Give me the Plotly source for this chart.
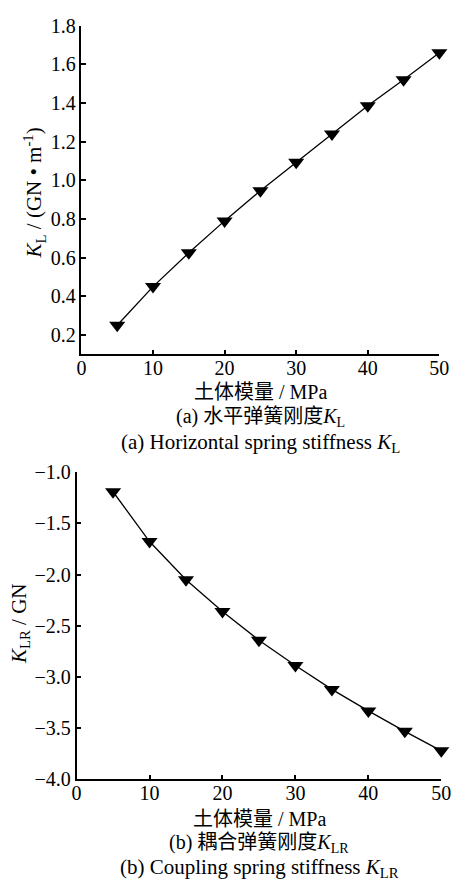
import plotly.graph_objects as go

modulus = [5, 10, 15, 20, 25, 30, 35, 40, 45, 50]
k_l = [0.25, 0.45, 0.625, 0.79, 0.946, 1.093, 1.24, 1.386, 1.52, 1.66]
k_lr = [-1.19, -1.676, -2.05, -2.36, -2.64, -2.886, -3.12, -3.33, -3.53, -3.72]

x_ticks = [0, 10, 20, 30, 40, 50]
y1_ticks = [0.2, 0.4, 0.6, 0.8, 1.0, 1.2, 1.4, 1.6, 1.8]
y2_ticks = [-1.0, -1.5, -2.0, -2.5, -3.0, -3.5, -4.0]

FONT = "Liberation Serif, Noto Sans CJK SC"
TICKFONT = "Times New Roman, Liberation Serif, serif"
W, H = 460, 889

fig = go.Figure()
common = dict(mode="lines+markers", line=dict(color="black", width=1.3),
              marker=dict(symbol="triangle-down", size=14, color="black"),
              cliponaxis=False, showlegend=False)
fig.add_trace(go.Scatter(x=modulus, y=k_l, xaxis="x", yaxis="y", **common))
fig.add_trace(go.Scatter(x=modulus, y=k_lr, xaxis="x2", yaxis="y2", **common))

ax = dict(showline=True, linecolor="black", linewidth=1.5, ticks="inside",
          ticklen=5, tickwidth=1.5, tickcolor="black", showgrid=False,
          zeroline=False, mirror=False,
          tickfont=dict(family=TICKFONT, size=20, color="black"))

fig.update_layout(
    width=W, height=H, margin=dict(l=0, r=0, t=0, b=0),
    paper_bgcolor="white", plot_bgcolor="white",
    font=dict(family=TICKFONT, color="black", size=20),
    xaxis=dict(domain=[79 / W, 449 / W], range=[0, 50], tickvals=x_ticks,
               anchor="y", ticklabelstandoff=-5, **ax),
    yaxis=dict(domain=[1 - 352 / H, 1 - 15 / H], range=[0.1, 1.8],
               tickvals=y1_ticks, ticktext=[f"{v:.1f}" for v in y1_ticks],
               anchor="x", **ax),
    xaxis2=dict(domain=[74 / W, 451 / W], range=[0, 50], tickvals=x_ticks,
                anchor="y2", ticklabelstandoff=-5, **ax),
    yaxis2=dict(domain=[1 - 788 / H, 1 - 473 / H], range=[-4.0, -1.0],
                tickvals=y2_ticks, ticktext=[f"{v:.1f}".replace("-", "\u2212") for v in y2_ticks],
                anchor="x2", **ax),
)

def ann(text, x, y, size=20, angle=0):
    fig.add_annotation(text=text, x=x / W, y=1 - y / H, xref="paper", yref="paper",
                       showarrow=False, textangle=angle, xanchor="center", yanchor="middle",
                       font=dict(family=FONT, size=size, color="black"))

ann("<i>K</i><sub>L</sub> / (GN • m<sup>-1</sup>)", 30, 187, 21, -90)
ann("土体模量 / MPa", 264, 391, 20)
ann("(a) 水平弹簧刚度<i>K</i><sub>L</sub>", 264, 417, 20)
ann("(a) Horizontal spring stiffness <i>K</i><sub>L</sub>", 264, 443, 21)

ann("<i>K</i><sub>LR</sub> / GN", 16, 628, 21, -90)
ann("土体模量 / MPa", 263, 829, 20)
ann("(b) 耦合弹簧刚度<i>K</i><sub>LR</sub>", 263, 854, 20)
ann("(b) Coupling spring stiffness <i>K</i><sub>LR</sub>", 263, 879, 21)

fig.write_html("out.html")
